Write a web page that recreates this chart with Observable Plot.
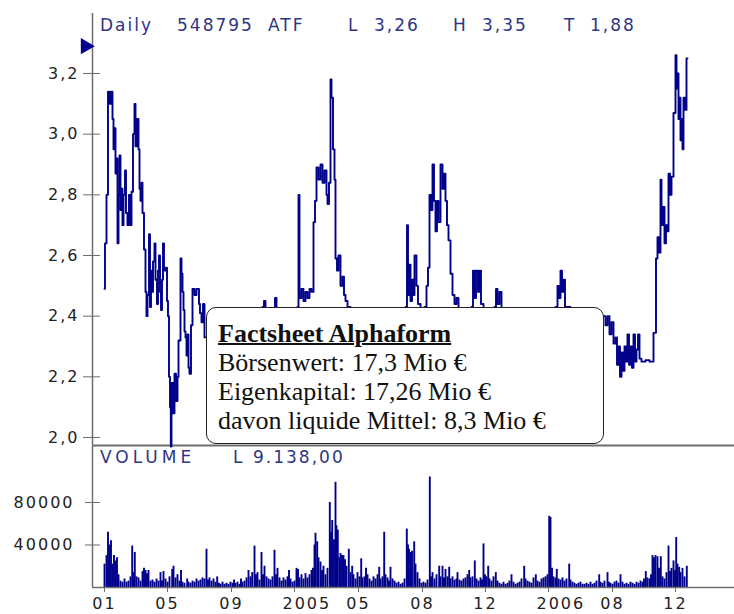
<!DOCTYPE html>
<html>
<head>
<meta charset="utf-8">
<script src="https://cdn.jsdelivr.net/npm/d3@7"></script>
<script src="https://cdn.jsdelivr.net/npm/@observablehq/plot@0.6"></script>
<style>
  html, body { margin: 0; padding: 0; background: #fff; }
  #wrap { position: relative; width: 734px; height: 614px; overflow: hidden; background: #fff; }
  #wrap svg { display: block; }
  .hdr { position: absolute; font-family: "DejaVu Sans", sans-serif; font-size: 17px; line-height: 20px;
         letter-spacing: 2px; color: #2f3585; white-space: pre; }
  #box { position: absolute; left: 206px; top: 307px; width: 398px; height: 137px;
         border: 1px solid #222; border-radius: 10px; background: #fff;
         font-family: "Liberation Serif", "Times New Roman", serif; font-size: 26px; line-height: 29px;
         color: #111; padding: 11px 0 0 11px; box-sizing: border-box; }
  #box b { text-decoration: underline; text-decoration-thickness: 2px; }
</style>
</head>
<body>
<div id="wrap"></div>
<script>
// ---- data ----
// trading-session index (0 = first session shown) and closing price
const price = [
  [0,2.49],[0.5,2.64],[2,2.80],[3.5,3.14],[5,3.10],[6.5,3.14],[8,3.05],[9,2.95],[10,3.02],[11,2.87],
  [12,2.92],[13,2.64],[14,2.80],[15,2.93],[16,2.75],[17,2.82],[18,2.70],[19,2.80],[20.5,2.88],[21.5,2.74],
  [23,2.70],[24.5,2.80],[25.5,2.70],[27,2.81],[28.5,3.00],[30,3.10],[31,2.96],[32.5,3.05],[34,2.95],[35,2.82],
  [36,2.78],[37,2.84],[38,2.74],[39.5,2.62],[41,2.48],[42,2.40],[43,2.47],[44.5,2.67],[45.5,2.43],[46.5,2.55],
  [47.5,2.48],[48.5,2.58],[50,2.64],[51,2.52],[52.5,2.44],[53.5,2.55],[54.5,2.60],[55.5,2.48],[56.5,2.42],[57.5,2.52],
  [58.5,2.64],[59.5,2.55],[61,2.56],[62.5,2.45],[63.5,2.40],[64.5,2.20],[65.5,2.10],[66.3,1.97],[67,2.18],[68.5,2.08],
  [70,2.21],[71.5,2.12],[73,2.20],[74,2.32],[76,2.59],[77,2.54],[78,2.48],[79,2.42],[80,2.35],[81,2.33],
  [82,2.27],[83,2.34],[84,2.23],[85,2.21],[86.5,2.37],[88,2.49],[90,2.47],[92,2.49],[94.5,2.44],[95.5,2.41],
  [97,2.38],[98.5,2.44],[100,2.33],[103,2.30],[108,2.36],[114,2.32],[121,2.38],[128,2.34],[136,2.40],[144,2.36],
  [152,2.40],[158,2.43],[159.5,2.45],[161,2.40],[166,2.42],[170.5,2.46],[172,2.41],[178,2.40],[186,2.42],[193,2.43],
  [194,2.80],[195,2.46],[197,2.49],[199,2.45],[201,2.48],[203,2.46],[205,2.49],[207,2.48],[209,2.71],[210.5,2.78],
  [212,2.89],[214,2.85],[216,2.90],[218,2.84],[220,2.88],[222,2.80],[223,2.77],[224.5,2.84],[226,3.18],[227,3.12],
  [228.5,2.95],[230,2.85],[231,2.59],[232.5,2.55],[234,2.60],[236,2.50],[238,2.53],[239.5,2.47],[241,2.45],[243,2.43],
  [246,2.40],[251,2.37],[258,2.40],[266,2.35],[274,2.38],[282,2.36],[290,2.40],[296,2.42],[301,2.43],[302.5,2.70],
  [303.5,2.47],[304.5,2.57],[306,2.45],[307.5,2.52],[309,2.47],[310,2.60],[312,2.50],[313.5,2.44],[316,2.42],[320,2.43],
  [322,2.50],[323.5,2.56],[325,2.80],[326.5,2.75],[328,2.90],[329.5,2.78],[331,2.68],[332.5,2.78],[334,2.71],[336,2.90],
  [338,2.82],[339.5,2.87],[341,2.78],[342.5,2.70],[344,2.65],[346,2.54],[348,2.47],[350,2.44],[352,2.46],[354,2.41],
  [358,2.38],[364,2.40],[367,2.43],[368.5,2.55],[370,2.46],[371.5,2.55],[373.5,2.48],[375,2.55],[376.5,2.44],[379,2.42],
  [384,2.40],[390,2.43],[391.5,2.49],[393,2.44],[395,2.48],[397,2.42],[404,2.38],[412,2.36],[420,2.39],[428,2.35],
  [436,2.38],[444,2.40],[451,2.43],[453,2.50],[454.5,2.46],[456,2.55],[457.5,2.48],[459,2.52],[460.5,2.43],[466,2.40],
  [474,2.38],[482,2.41],[490,2.39],[496,2.40],[501,2.37],[503,2.40],[505,2.34],[507,2.38],[509,2.31],[511,2.33],
  [512.5,2.24],[514,2.30],[515.5,2.20],[517,2.28],[518.5,2.22],[520,2.30],[521.5,2.25],[523,2.34],[524.5,2.24],[526,2.30],
  [527.5,2.23],[529,2.34],[530.5,2.25],[532,2.29],[533.5,2.34],[535,2.26],[537,2.25],[541,2.255],[545,2.25],[549,2.345],
  [551.5,2.59],[553,2.66],[554.5,2.61],[556,2.85],[557,2.70],[558.5,2.76],[560,2.64],[561.5,2.70],[563,2.68],[564,2.87],
  [565.5,2.80],[567,2.86],[569,3.07],[571,3.26],[572,3.15],[573,3.20],[574,3.05],[575,3.12],[576,2.98],[577,3.05],
  [578,2.95],[579,3.12],[580.5,3.08],[582,3.25],[583,3.25]
];
// trading-session index and volume in thousand shares
const volumeK = [
  [0,22],[2,30],[3.5,52],[5,40],[6.5,44],[8,22],[9.5,30],[11,25],[12.5,28],[14,12],[16,6],[18,5],[20,8],[22,5],[24,6],
  [26,10],[27.7,39],[29,14],[30.3,33],[32,10],[34,9],[36,6],[38,15],[39.5,18],[41,16],[42.5,13],[44,16],[46,6],[48,7],
  [50,5],[52,8],[54,6],[56,14],[57.5,6],[59,15],[61,8],[63,5],[65,10],[67.7,17],[69,20],[71,9],[73,12],[75,6],[76.5,16],
  [78,5],[80,4],[82.7,8],[84,5],[86,4],[88,6],[90,5],[92,8],[94,6],[96,7],[98,9],[100,8],[102,36],[103.5,7],[105,9],
  [107,6],[109,8],[111,5],[112.7,10],[114.5,4],[116,3],[118,5],[120,3],[122,4],[124,3],[126,5],[128,4],[129.5,7],[131,4],
  [133,5],[135,3],[136.5,8],[138,5],[140,6],[142,9],[144,16],[146,10],[147.7,14],[150,39],[151.5,12],[153,14],[155,7],
  [157,33],[158.5,12],[160,20],[162,10],[164,8],[166,7],[168,10],[170,35],[171.5,12],[173,18],[175,9],[177,6],[179,9],
  [181,7],[183,10],[184.5,16],[186,8],[188,5],[190,6],[192,18],[193.5,17],[195,9],[197,12],[199,8],[201,13],[203,9],
  [205,12],[207,16],[208.5,18],[210,40],[211,51],[212.7,43],[214,28],[216,24],[217.5,16],[219,20],[221,12],[223,18],
  [225.3,80],[226.5,52],[227.7,63],[229.5,45],[231,99],[232,58],[233.3,54],[235,28],[236,32],[237.5,30],[239,30],
  [240.5,26],[242,20],[244.3,36],[246,14],[247.7,20],[249,12],[251,8],[253,14],[255,10],[256.7,27],[258,9],[260,10],
  [261.5,18],[263,12],[265,8],[267,6],[269,10],[271,8],[273,12],[274.7,19],[276,8],[278,10],[279.7,52],[281,12],[283,9],
  [284.5,6],[286,19],[288,8],[290,6],[292,4],[294,5],[296,3],[298,4],[300,8],[302.3,55],[303.5,40],[304.5,36],[306,33],
  [307.5,34],[309.7,43],[311,22],[313,14],[315,8],[317,4],[319,5],[321,4],[323,7],[325.3,104],[326.5,10],[328,14],[330,8],
  [332,12],[334.7,20],[336,10],[338,20],[339.5,9],[341,17],[343,10],[344.7,19],[346,8],[348,10],[350,7],[352,8],[353,14],
  [355,7],[357,6],[359,8],[361,9],[363,12],[364.7,16],[366,9],[368,10],[370.3,25],[372,8],[374,6],[376,9],[377.5,7],
  [379,41],[380.5,12],[382,10],[383.7,20],[385,8],[387,6],[389,10],[391.3,14],[393,6],[395,4],[397,3],[399,5],[401,3],
  [403,4],[405,6],[407,12],[409,5],[411,3],[413,4],[415,5],[417,8],[419.7,20],[421,8],[423,6],[425,5],[427,4],[429,9],
  [431.3,12],[433,6],[435,5],[437,8],[439,9],[441,10],[443,12],[444.7,67],[446,66],[447.5,18],[449,10],[451,9],[452.3,17],
  [454,8],[456,7],[458,9],[460,6],[462,8],[464.7,22],[466,7],[468,5],[470,4],[472,3],[474,4],[476,5],[478,3],[480,3],
  [482,4],[484,3],[486,5],[488,3],[490,4],[492,6],[494.7,12],[496,5],[498,4],[500,6],[503,14],[504.5,5],[506,4],[508,3],
  [510,5],[512,6],[514,4],[516,12],[518,5],[520,3],[522,4],[524,3],[526,5],[528,4],[530,3],[532,5],[534,4],[536,6],
  [538,5],[539.5,8],[541.3,15],[543,9],[545,8],[546.5,12],[548,30],[549.5,28],[551,30],[553,29],[554.5,18],[556.3,29],
  [558,10],[560,8],[562,14],[564,39],[565.5,15],[567,18],[569,25],[570.5,16],[571.7,47],[573,22],[574.7,19],[576,14],
  [578,18],[580,10],[582.3,20]
];
const tickSessions = [0, 63, 127, 190, 254, 318, 381, 444, 508, 571];
const tickLabels = ["01", "05", "09", "2005", "05", "08", "12", "2006", "08", "12"];
const priceTicks = [2.0, 2.2, 2.4, 2.6, 2.8, 3.0, 3.2];
const volumeTicks = [40000, 80000];
const lastMarker = [3.29];
const headerItems = [["Daily",100],["548795",177],["ATF",268],["L",348],["3,26",374],["H",453],["3,35",482],["T",564],["1,88",590]];
const volumeHeader = [["VOLUME",100],["L",233],["9.138,00",253]];

// ---- build tables ----
const priceData = price.map(([d, v]) => ({d, v}));
const volumeData = volumeK.map(([d, k]) => ({d, v: k * 1000}));
const tickData = tickSessions.map((d, i) => ({d, label: tickLabels[i], year: tickLabels[i].length === 4}));

const navy = "#00008a";
const axisColor = "#6e6e6e";
const xDomain = [-12, 630];
const priceDomain = [1.9736, 3.3978];
const volDomain = [0, 132700];
const baseStyle = {fontFamily: "DejaVu Sans, sans-serif", fontSize: "16px", letterSpacing: "2px",
                   color: "#222", background: "white", overflow: "visible"};

const pricePlot = Plot.plot({
  width: 734, height: 446,
  marginLeft: 92, marginRight: 0, marginTop: 13, marginBottom: 1,
  x: {domain: xDomain, axis: null},
  y: {domain: priceDomain, axis: null},
  style: baseStyle,
  marks: [
    Plot.ruleX([xDomain[0]], {stroke: axisColor, strokeWidth: 1.5}),
    Plot.ruleY([priceDomain[0]], {stroke: axisColor, strokeWidth: 2}),
    Plot.axisY(priceTicks, {tickSize: 17, dx: 8, tickFormat: () => "", stroke: axisColor, label: null}),
    Plot.axisY(priceTicks, {tickSize: 0, tickPadding: 13, tickFormat: d => d.toFixed(1).replace(".", ","), fill: "#222", label: null}),
    Plot.line(priceData, {x: "d", y: "v", curve: "step-after", stroke: navy, strokeWidth: 1.9}),
    Plot.dot(lastMarker, {y: d => d, frameAnchor: "left", symbol: "triangle", rotate: 90, r: 6, dx: -7, fill: navy, stroke: "none"})
  ]
});

const volumePlot = Plot.plot({
  width: 734, height: 168,
  marginLeft: 92, marginRight: 0, marginTop: 0, marginBottom: 27,
  x: {domain: xDomain, axis: null},
  y: {domain: volDomain, axis: null},
  style: baseStyle,
  marks: [
    Plot.ruleX(volumeData, {x: "d", y: "v", stroke: navy, strokeWidth: 1.9}),
    Plot.ruleX([xDomain[0]], {stroke: axisColor, strokeWidth: 1.5}),
    Plot.ruleY([0], {stroke: axisColor, strokeWidth: 1.5}),
    Plot.axisY(volumeTicks, {tickSize: 15, dx: 8, tickFormat: () => "", stroke: axisColor, label: null}),
    Plot.axisY(volumeTicks, {tickSize: 0, tickPadding: 18, tickFormat: d => String(d), fill: "#222", label: null}),
    Plot.axisX(tickSessions, {tickSize: 5, tickFormat: () => "", stroke: axisColor, label: null}),
    Plot.text(tickData.filter(t => !t.year), {x: "d", text: "label", frameAnchor: "bottom", dy: 16, lineAnchor: "middle", fill: "#222"}),
    Plot.text(tickData.filter(t => t.year), {x: "d", text: "label", frameAnchor: "bottom", dy: 16, dx: -12, textAnchor: "start", lineAnchor: "middle", fill: "#222"})
  ]
});

const wrap = document.getElementById("wrap");
wrap.appendChild(pricePlot);
wrap.appendChild(volumePlot);

function addHeader(items, top, extraSpacing) {
  for (const [txt, left] of items) {
    const s = document.createElement("div");
    s.className = "hdr";
    s.textContent = txt;
    s.style.left = left + "px";
    s.style.top = top + "px";
    if (extraSpacing && txt === "VOLUME") s.style.letterSpacing = extraSpacing;
    wrap.appendChild(s);
  }
}
addHeader(headerItems, 15);
addHeader(volumeHeader, 447, "4px");

const box = document.createElement("div");
box.id = "box";
box.innerHTML = "<b>Factsheet Alphaform</b><br>Börsenwert: 17,3 Mio €<br>Eigenkapital: 17,26 Mio €<br>davon liquide Mittel: 8,3 Mio €";
wrap.appendChild(box);
</script>
</body>
</html>
